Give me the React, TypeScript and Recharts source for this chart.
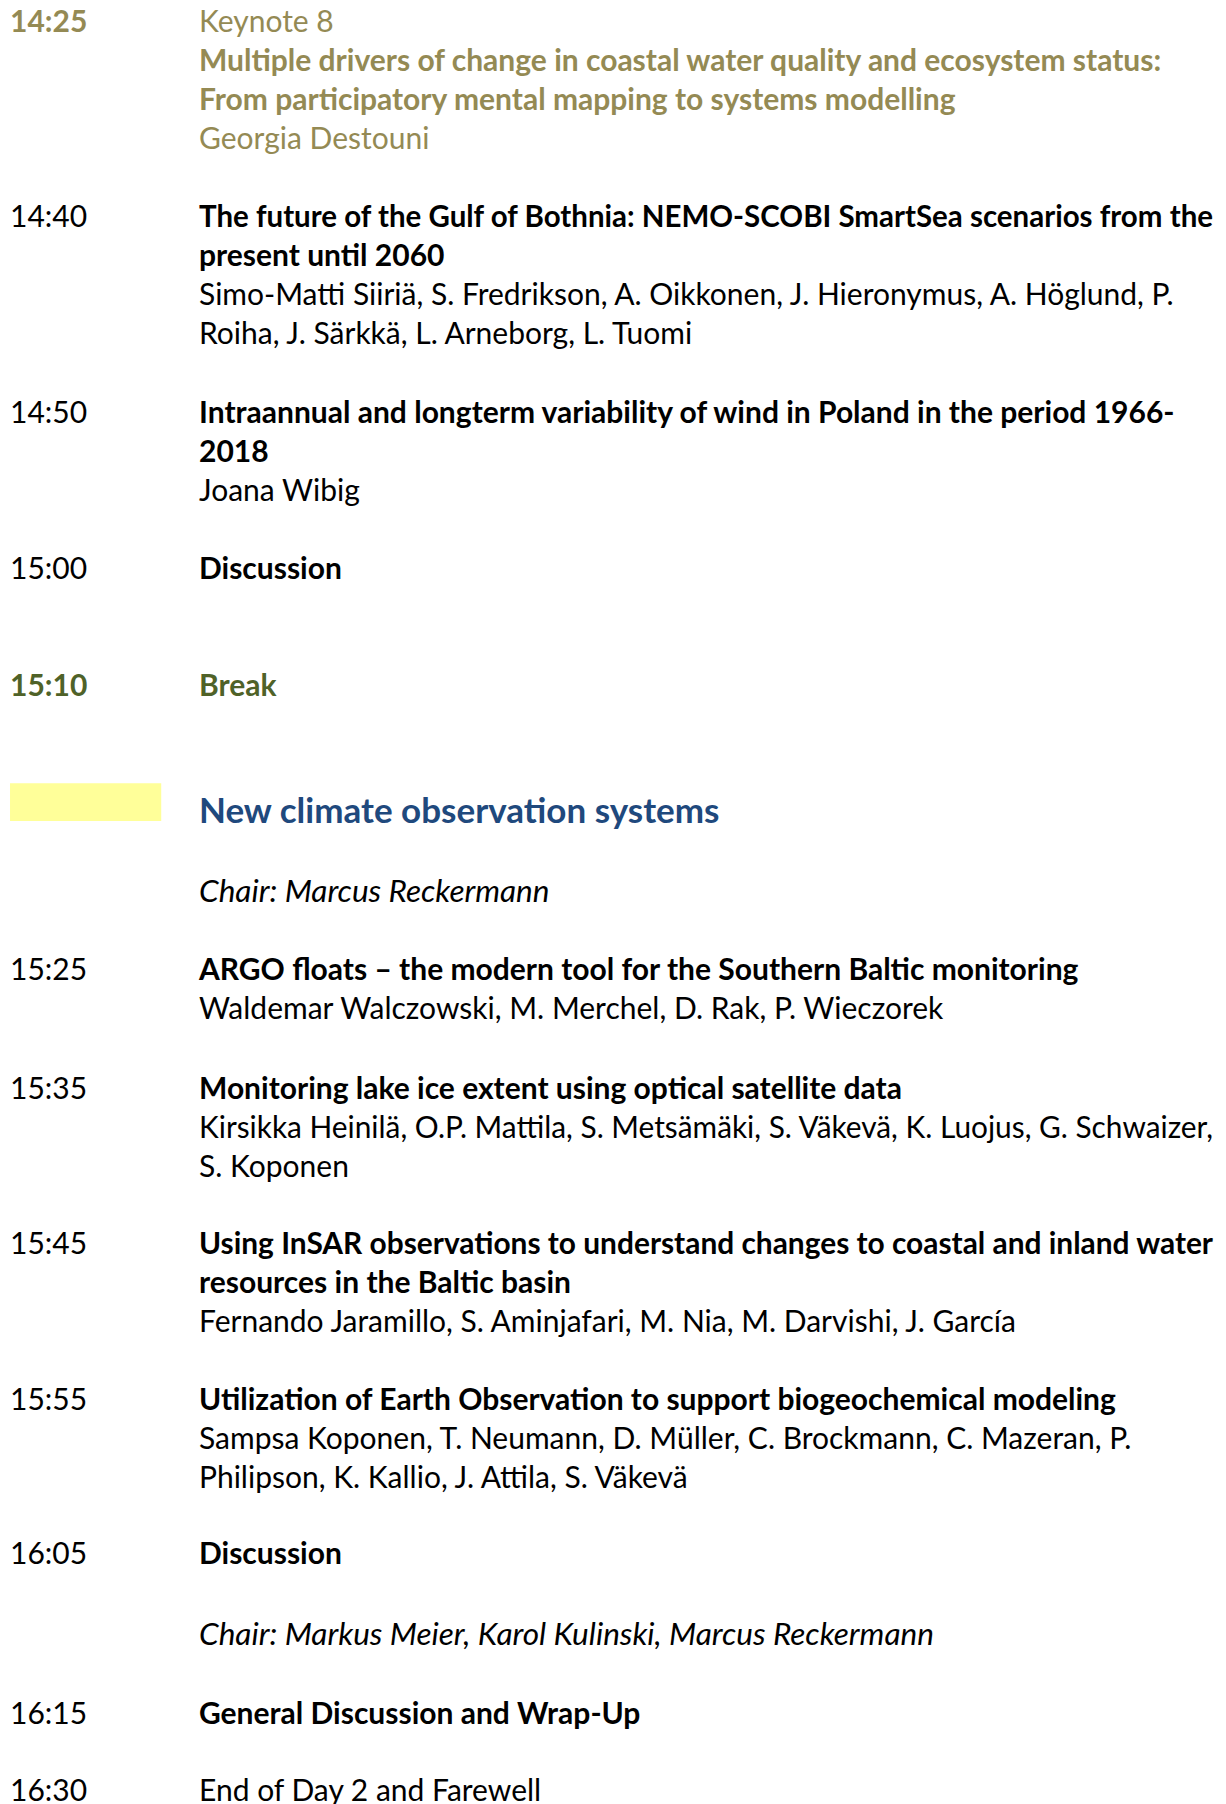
import React from "react";
import { ScatterChart, Scatter, XAxis, YAxis, ReferenceArea } from "recharts";

// time column
const timeLabels = ["14:25", "14:40", "14:50", "15:00", "15:10", "15:25", "15:35", "15:45", "15:55", "16:05", "16:15", "16:30"];
const timeRows = [0, 5, 10, 14, 17, 24.26, 27.3, 31.26, 35.26, 39.2, 43.28, 45.26];
const timeKinds = ["keynoteTime", "plain", "plain", "plain", "breakTime", "plain", "plain", "plain", "plain", "plain", "plain", "plain"];

// programme column
const textLines = [
  "Keynote 8",
  "Multiple drivers of change in coastal water quality and ecosystem status:",
  "From participatory mental mapping to systems modelling",
  "Georgia Destouni",
  "The future of the Gulf of Bothnia: NEMO-SCOBI SmartSea scenarios from the",
  "present until 2060",
  "Simo-Matti Siiriä, S. Fredrikson, A. Oikkonen, J. Hieronymus, A. Höglund, P.",
  "Roiha, J. Särkkä, L. Arneborg, L. Tuomi",
  "Intraannual and longterm variability of wind in Poland in the period 1966-",
  "2018",
  "Joana Wibig",
  "Discussion",
  "Break",
  "New climate observation systems",
  "Chair: Marcus Reckermann",
  "ARGO floats – the modern tool for the Southern Baltic monitoring",
  "Waldemar Walczowski, M. Merchel, D. Rak, P. Wieczorek",
  "Monitoring lake ice extent using optical satellite data",
  "Kirsikka Heinilä, O.P. Mattila, S. Metsämäki, S. Väkevä, K. Luojus, G. Schwaizer,",
  "S. Koponen",
  "Using InSAR observations to understand changes to coastal and inland water",
  "resources in the Baltic basin",
  "Fernando Jaramillo, S. Aminjafari, M. Nia, M. Darvishi, J. García",
  "Utilization of Earth Observation to support biogeochemical modeling",
  "Sampsa Koponen, T. Neumann, D. Müller, C. Brockmann, C. Mazeran, P.",
  "Philipson, K. Kallio, J. Attila, S. Väkevä",
  "Discussion",
  "Chair: Markus Meier, Karol Kulinski, Marcus Reckermann",
  "General Discussion and Wrap-Up",
  "End of Day 2 and Farewell",
];
const textRows = [
  0, 1, 2, 3,
  5, 6, 7, 8,
  10, 11, 12,
  14,
  17,
  20.2,
  22.26,
  24.26, 25.26,
  27.3, 28.3, 29.3,
  31.26, 32.26, 33.26,
  35.26, 36.26, 37.26,
  39.2,
  41.26,
  43.28,
  45.26,
];
const textKinds = [
  "keynote", "keynoteTitle", "keynoteTitle", "keynote",
  "title", "title", "plain", "plain",
  "title", "title", "plain",
  "title",
  "break",
  "heading",
  "chair",
  "title", "plain",
  "title", "plain", "plain",
  "title", "title", "plain",
  "title", "plain", "plain",
  "title",
  "chair",
  "title",
  "plain",
];

// session marker (yellow box) spans the heading row
const sessionRow = 20;

const FONT = "Lato";
const SIZE = 30;
const MAX_WIDTH = 1014; // text column right edge

const styles: Record<string, { fill: string; weight: number; italic?: boolean; size?: number }> = {
  plain: { fill: "#000000", weight: 400 },
  title: { fill: "#000000", weight: 700 },
  keynote: { fill: "#948a54", weight: 400 },
  keynoteTitle: { fill: "#948a54", weight: 700 },
  keynoteTime: { fill: "#948a54", weight: 700 },
  break: { fill: "#4f6228", weight: 700 },
  breakTime: { fill: "#4f6228", weight: 700 },
  heading: { fill: "#1f497d", weight: 700, size: 35 },
  chair: { fill: "#000000", weight: 400, italic: true, size: 31.5 },
};

const timeData = timeLabels.map((label, i) => ({ col: 0, row: timeRows[i], label, kind: timeKinds[i] }));
const textData = textLines.map((label, i) => ({ col: 1, row: textRows[i], label, kind: textKinds[i] }));

let ctx: CanvasRenderingContext2D | null = null;
const measure = (t: string, font: string) => {
  if (!ctx && typeof document !== "undefined") ctx = document.createElement("canvas").getContext("2d");
  if (!ctx) return 0;
  ctx.font = font;
  return ctx.measureText(t).width;
};

const LineText = (props: any) => {
  const { cx, cy, payload } = props;
  const s = styles[payload.kind];
  const size = s.size ?? SIZE;
  const w = measure(payload.label, `${s.italic ? "italic " : ""}${s.weight} ${size}px ${FONT}`);
  const squeeze = w > MAX_WIDTH ? { textLength: MAX_WIDTH, lengthAdjust: "spacingAndGlyphs" } : {};
  return (
    <text
      x={cx}
      y={cy + size * 0.36}
      fill={s.fill}
      fontFamily={FONT}
      fontSize={size}
      fontWeight={s.weight}
      fontStyle={s.italic ? "italic" : "normal"}
      {...squeeze}
    >
      {payload.label}
    </text>
  );
};

export default function App() {
  return (
    <div style={{ position: "absolute", left: 0, top: 0, background: "#fff" }}>
      <ScatterChart width={1226} height={1804} margin={{ top: 0, right: 0, bottom: 0, left: 0 }}>
        <XAxis dataKey="col" type="number" domain={[-0.053, 6.434]} hide />
        <YAxis dataKey="row" type="number" domain={[-0.53, 45.61]} reversed hide />
        <ReferenceArea x1={0} x2={0.8} y1={sessionRow - 0.5} y2={sessionRow + 0.47} fill="#ffff99" fillOpacity={1} stroke="none" />
        <Scatter data={timeData} shape={LineText} isAnimationActive={false} />
        <Scatter data={textData} shape={LineText} isAnimationActive={false} />
      </ScatterChart>
    </div>
  );
}
